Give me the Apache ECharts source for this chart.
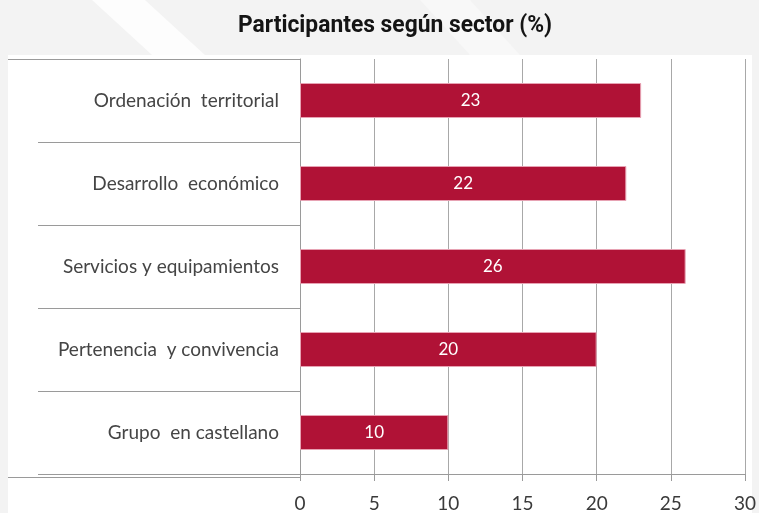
<!DOCTYPE html>
<html>
<head>
<meta charset="utf-8">
<style>
  html, body { margin: 0; padding: 0; background: #f3f3f3; }
  #chart { width: 759px; height: 513px; }
</style>
<script src="https://cdn.jsdelivr.net/npm/echarts@6/dist/echarts.min.js"></script>
</head>
<body>
<div id="chart"></div>
<script>
// Sectors and share of participants (%)
const sectors = [
  'Ordenación  territorial',
  'Desarrollo  económico',
  'Servicios y equipamientos',
  'Pertenencia  y convivencia',
  'Grupo  en castellano'
];
const shares = [23, 22, 26, 20, 10];
const xTicks = { min: 0, max: 30, step: 5 };
const titleText = 'Participantes según sector (%)';

const W = 759, H = 513;
const gridLeft = 300, gridRight = 13, gridTop = 59, gridBottom = 36;
const lineGrey = '#9a9a9a';
const labelFont = 'Lato, "Open Sans", sans-serif';

// Title is set in a condensed cut: squeeze a regular face horizontally
const titleFont = 'bold 23px Roboto, "Liberation Sans", sans-serif';
const titleWidth = 314;
const measureCtx = document.createElement('canvas').getContext('2d');
measureCtx.font = titleFont;
const titleScale = titleWidth / measureCtx.measureText(titleText).width;

const chart = echarts.init(document.getElementById('chart'), null, { renderer: 'canvas' });

chart.setOption({
  backgroundColor: '#f3f3f3',
  animation: false,
  graphic: [
    // soft watermark stripes behind the title band
    { type: 'polygon', z: -10, silent: true,
      shape: { points: [[92, 0], [145, 0], [205, 55], [152, 55]] },
      style: { fill: '#fdfdfd' } },
    { type: 'polygon', z: -10, silent: true,
      shape: { points: [[420, 0], [470, 0], [520, 55], [470, 55]] },
      style: { fill: '#f8f8f8' } },
    // white chart panel
    { type: 'rect', z: -9, silent: true,
      shape: { x: 8, y: 55, width: 744, height: H - 55 },
      style: { fill: '#ffffff' } },
    // chart title
    { type: 'text', z: 10, silent: true,
      x: 395, y: 26, scaleX: titleScale, scaleY: 1,
      style: {
        text: titleText,
        font: titleFont,
        fill: '#141414',
        align: 'center',
        verticalAlign: 'middle'
      } },
    // frame lines to the left of the value axis
    { type: 'line', z: 5, silent: true,
      shape: { x1: 8, y1: gridTop + 0.5, x2: gridLeft, y2: gridTop + 0.5 },
      style: { stroke: lineGrey, lineWidth: 1 } },
    { type: 'line', z: 5, silent: true,
      shape: { x1: 8, y1: H - gridBottom + 0.5, x2: gridLeft, y2: H - gridBottom + 0.5 },
      style: { stroke: lineGrey, lineWidth: 1 } }
  ],
  grid: {
    left: gridLeft,
    right: gridRight,
    top: gridTop,
    bottom: gridBottom,
    containLabel: false
  },
  xAxis: {
    type: 'value',
    min: xTicks.min,
    max: xTicks.max,
    interval: xTicks.step,
    axisLine: { show: true, lineStyle: { color: lineGrey, width: 1 } },
    axisTick: { show: true, length: 7, lineStyle: { color: lineGrey } },
    splitLine: { show: true, lineStyle: { color: '#a8a8a8', width: 1 } },
    axisLabel: {
      margin: 20,
      fontFamily: labelFont,
      fontSize: 19,
      color: '#3a3a3a'
    }
  },
  yAxis: {
    type: 'category',
    inverse: true,
    data: sectors,
    axisLine: { show: true, lineStyle: { color: lineGrey, width: 1 } },
    axisTick: { show: true, length: 262, lineStyle: { color: lineGrey } },
    axisLabel: {
      margin: 21,
      fontFamily: labelFont,
      fontSize: 19,
      color: '#454545'
    }
  },
  series: [{
    type: 'bar',
    data: shares,
    barWidth: 35,
    itemStyle: {
      color: '#b01236',
      borderColor: '#e7a2b3',
      borderWidth: 1
    },
    label: {
      show: true,
      position: 'inside',
      color: '#ffffff',
      fontFamily: labelFont,
      fontSize: 17
    }
  }]
});
</script>
</body>
</html>
